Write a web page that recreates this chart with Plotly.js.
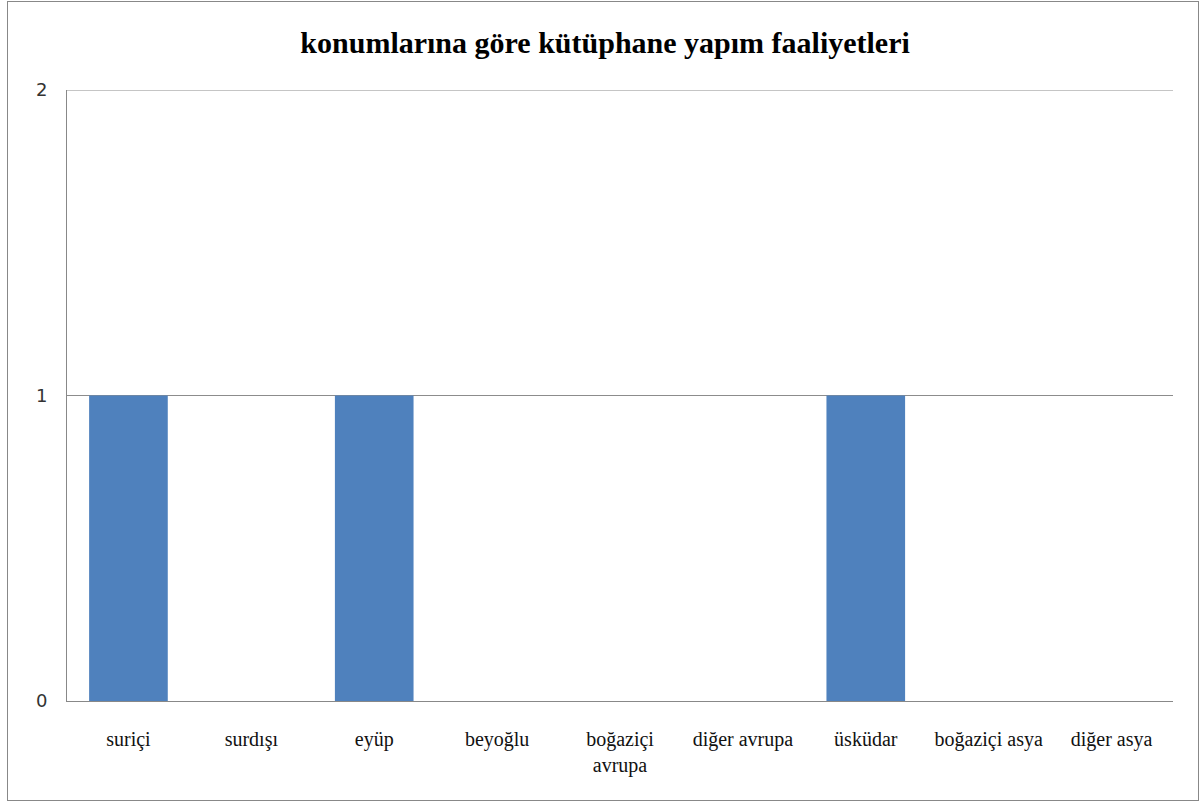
<!DOCTYPE html>
<html>
<head>
<meta charset="utf-8">
<script src="https://cdn.plot.ly/plotly-3.0.1.min.js"></script>
<style>
  html, body { margin: 0; padding: 0; background: #fff; }
  #chart { position: absolute; left: 0; top: 0; width: 1203px; height: 808px; }
  #frame { position: absolute; left: 7px; top: 1px; width: 1192px; height: 800px;
           border: 1px solid #888; pointer-events: none; box-sizing: border-box; }
</style>
</head>
<body>
<div id="chart"></div>
<div id="frame"></div>
<script>
// Library construction activity by district
const categories = ["suriçi", "surdışı", "eyüp", "beyoğlu", "boğaziçi<br>avrupa",
                    "diğer avrupa", "üsküdar", "boğaziçi asya", "diğer asya"];
const counts = [1, 0, 1, 0, 0, 0, 1, 0, 0];
const yTicks = [0, 1, 2];

const trace = {
  type: "bar",
  x: categories,
  y: counts,
  marker: { color: "#4F81BD", line: { width: 0 } },
  hoverinfo: "x+y"
};

const yMax = Math.max(...yTicks);

const layout = {
  width: 1203,
  height: 808,
  margin: { l: 67, r: 30, t: 90, b: 107 },
  paper_bgcolor: "#ffffff",
  plot_bgcolor: "#ffffff",
  bargap: 0.36,
  showlegend: false,
  title: {
    text: "<b>konumlarına göre kütüphane yapım faaliyetleri</b>",
    font: { family: "Liberation Serif, Times New Roman, serif", size: 30, color: "#000" },
    x: 0.503, xanchor: "center",
    y: 0.947, yanchor: "middle"
  },
  xaxis: {
    type: "category",
    showgrid: false,
    showline: true,
    linecolor: "#888",
    linewidth: 1,
    ticks: "",
    ticklabelstandoff: 20,
    tickfont: { family: "Liberation Serif, Times New Roman, serif", size: 20, color: "#111" },
    zeroline: false
  },
  yaxis: {
    range: [0, yMax],
    tickvals: yTicks,
    ticktext: yTicks.map(String),
    showgrid: true,
    gridcolor: "#8c8c8c",
    gridwidth: 1,
    showline: true,
    linecolor: "#888",
    linewidth: 1,
    zeroline: false,
    ticks: "",
    ticklabelstandoff: 15,
    tickfont: { family: "DejaVu Sans, Liberation Sans, sans-serif", size: 18, color: "#333" }
  },
  // top gridline at the highest tick, which sits on the plot edge
  shapes: [{
    type: "line", xref: "paper", yref: "y",
    x0: 0, x1: 1, y0: yMax, y1: yMax,
    line: { color: "#8c8c8c", width: 1 }
  }]
};

Plotly.newPlot("chart", [trace], layout, { displayModeBar: false, staticPlot: true });
</script>
</body>
</html>
